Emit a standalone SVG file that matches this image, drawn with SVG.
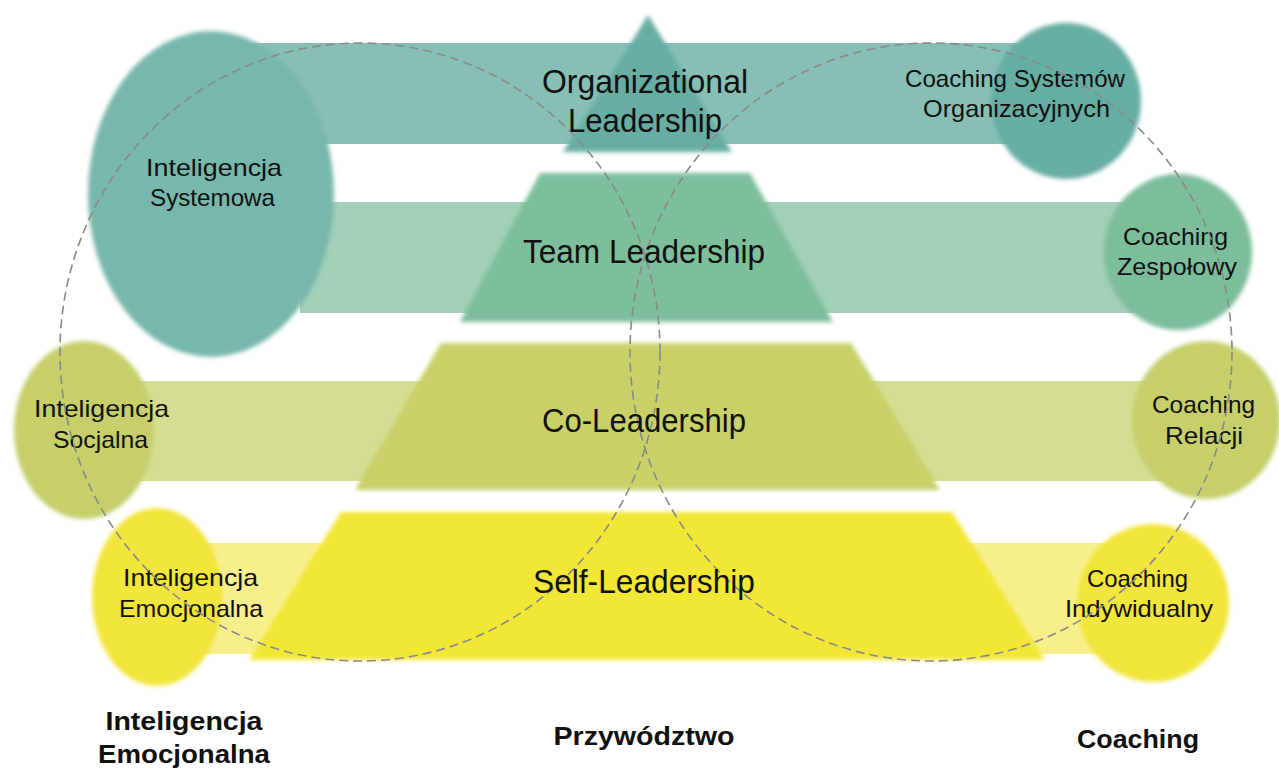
<svg xmlns="http://www.w3.org/2000/svg" width="1279" height="769" viewBox="0 0 1279 769">
<defs>
<filter id="soft" x="-10%" y="-10%" width="120%" height="120%"><feGaussianBlur stdDeviation="2"/></filter>
</defs>
<style>
.lbl{font-family:"Liberation Sans","DejaVu Sans",sans-serif;fill:#111;text-anchor:middle}
.big{font-size:33px}
.sm{font-size:24px}
.bot{font-size:26px;font-weight:bold}
.venn{fill:none;stroke:#8a8a8a;stroke-width:1.6;stroke-dasharray:9 5}
</style>
<rect width="1279" height="769" fill="#ffffff"/>
<g id="bands">
<rect x="200" y="43" width="845" height="101" fill="#87bfb5"/>
<rect x="300" y="202" width="835" height="111" fill="#a1cfb7"/>
<rect x="110" y="381" width="1100" height="100" fill="#d5dd92"/>
<rect x="200" y="543" width="915" height="111" fill="#f7ef8c"/>
</g>
<g id="pyramid" filter="url(#soft)">
<polygon id="org-shape" points="648,15 732,152 563,152" fill="#68ada3"/>
<polygon id="team-shape" points="540,173 750,173 833,322 460,322" fill="#7dbf9c"/>
<polygon id="co-shape" points="441,343 851,343 940,490 355,490" fill="#c8d068"/>
<polygon id="self-shape" points="341,512 952,512 1045,660 249,660" fill="#f3e734"/>
</g>
<g id="node-ei-systemowa">
<ellipse cx="211" cy="194" rx="123" ry="163" fill="#78b7ac" filter="url(#soft)"/>
<text class="lbl sm" x="214" y="176" textLength="136" lengthAdjust="spacingAndGlyphs">Inteligencja</text>
<text class="lbl sm" x="212.5" y="206" textLength="125" lengthAdjust="spacingAndGlyphs">Systemowa</text>
</g>
<g id="node-ei-socjalna">
<ellipse cx="84" cy="430" rx="70" ry="89" fill="#c6cf6a" filter="url(#soft)"/>
<text class="lbl sm" x="101.5" y="417" textLength="135" lengthAdjust="spacingAndGlyphs">Inteligencja</text>
<text class="lbl sm" x="100.5" y="448" textLength="95" lengthAdjust="spacingAndGlyphs">Socjalna</text>
</g>
<g id="node-ei-emocjonalna">
<ellipse cx="157" cy="597" rx="65" ry="89" fill="#f2e53a" filter="url(#soft)"/>
<text class="lbl sm" x="190.5" y="586" textLength="135" lengthAdjust="spacingAndGlyphs">Inteligencja</text>
<text class="lbl sm" x="191" y="617" textLength="144" lengthAdjust="spacingAndGlyphs">Emocjonalna</text>
</g>
<g id="node-c-systemow">
<ellipse cx="1066" cy="101" rx="75" ry="78" fill="#66ada2" filter="url(#soft)"/>
<text class="lbl sm" x="1015" y="87" textLength="220" lengthAdjust="spacingAndGlyphs">Coaching Systemów</text>
<text class="lbl sm" x="1016.5" y="117" textLength="187" lengthAdjust="spacingAndGlyphs">Organizacyjnych</text>
</g>
<g id="node-c-zespolowy">
<ellipse cx="1178" cy="252" rx="74" ry="78" fill="#7cbd9b" filter="url(#soft)"/>
<text class="lbl sm" x="1175.5" y="245" textLength="105" lengthAdjust="spacingAndGlyphs">Coaching</text>
<text class="lbl sm" x="1177" y="275" textLength="120" lengthAdjust="spacingAndGlyphs">Zespołowy</text>
</g>
<g id="node-c-relacji">
<ellipse cx="1206" cy="420" rx="74" ry="79" fill="#c6cf6a" filter="url(#soft)"/>
<text class="lbl sm" x="1203.5" y="413" textLength="103" lengthAdjust="spacingAndGlyphs">Coaching</text>
<text class="lbl sm" x="1204" y="444" textLength="78" lengthAdjust="spacingAndGlyphs">Relacji</text>
</g>
<g id="node-c-indywidualny">
<ellipse cx="1153" cy="603" rx="76" ry="79" fill="#f2e53a" filter="url(#soft)"/>
<text class="lbl sm" x="1137.5" y="587" textLength="101" lengthAdjust="spacingAndGlyphs">Coaching</text>
<text class="lbl sm" x="1139" y="617" textLength="148" lengthAdjust="spacingAndGlyphs">Indywidualny</text>
</g>
<g id="connectors">
<ellipse class="venn" cx="360" cy="352" rx="300" ry="309"/>
<ellipse class="venn" cx="931" cy="352" rx="301" ry="309"/>
</g>
<g id="node-org">
<text class="lbl big" x="645" y="93" textLength="206" lengthAdjust="spacingAndGlyphs">Organizational</text>
<text class="lbl big" x="645" y="132" textLength="154" lengthAdjust="spacingAndGlyphs">Leadership</text>
</g>
<g id="node-team"><text class="lbl big" x="644" y="263" textLength="242" lengthAdjust="spacingAndGlyphs">Team Leadership</text></g>
<g id="node-co"><text class="lbl big" x="644" y="432" textLength="204" lengthAdjust="spacingAndGlyphs">Co-Leadership</text></g>
<g id="node-self"><text class="lbl big" x="644" y="593" textLength="222" lengthAdjust="spacingAndGlyphs">Self-Leadership</text></g>
<g id="node-axis-ei">
<text class="lbl bot" x="184" y="730" textLength="157" lengthAdjust="spacingAndGlyphs">Inteligencja</text>
<text class="lbl bot" x="184" y="763" textLength="172" lengthAdjust="spacingAndGlyphs">Emocjonalna</text>
</g>
<g id="node-axis-prz"><text class="lbl bot" x="644" y="745" textLength="181" lengthAdjust="spacingAndGlyphs">Przywództwo</text></g>
<g id="node-axis-coach"><text class="lbl bot" x="1138" y="748" textLength="122" lengthAdjust="spacingAndGlyphs">Coaching</text></g>
</svg>
